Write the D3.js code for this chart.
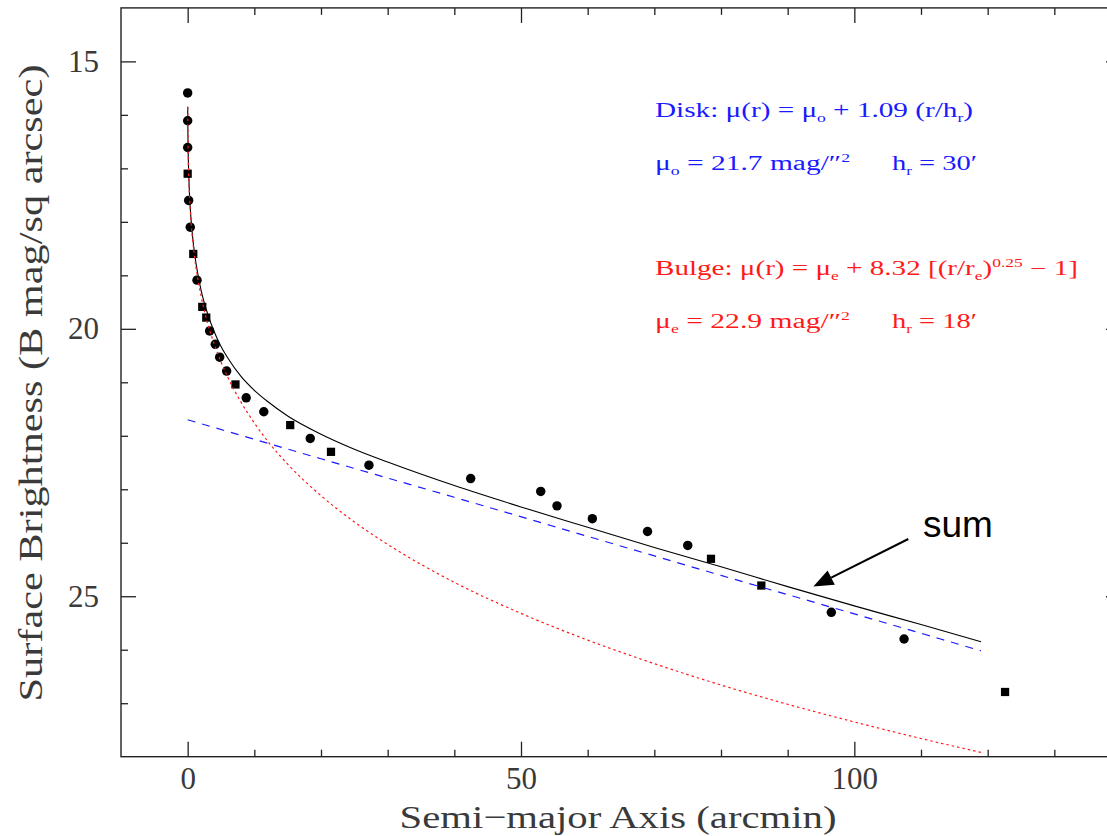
<!DOCTYPE html>
<html>
<head>
<meta charset="utf-8">
<script src="https://cdn.jsdelivr.net/npm/d3@7/dist/d3.min.js"></script>
<style>
  html, body { margin: 0; padding: 0; background: #fff; }
  svg { display: block; }
  .serif { font-family: "Liberation Serif", "Times New Roman", serif; }
</style>
</head>
<body>
<div id="chart"></div>
<script>
'use strict';

// observed profile (semi-major axis in arcmin, surface brightness in B mag/sq arcsec)
var pointR = [0, 0, 0, 0, 0.15, 0.39, 0.84, 1.40, 2.19, 2.79, 3.30, 4.14, 4.80, 5.85, 7.17, 8.78,
  11.42, 15.38, 18.39, 21.50, 27.19, 42.45, 52.96, 55.40, 60.70, 68.98, 75.01, 78.50, 86.05,
  96.55, 107.46, 122.61];
var pointMu = [15.59, 16.11, 16.61, 17.10, 17.60, 18.10, 18.60, 19.09, 19.59, 19.79, 20.04, 20.29,
  20.53, 20.79, 21.04, 21.29, 21.55, 21.80, 22.05, 22.30, 22.55, 22.80, 23.04, 23.31, 23.55,
  23.79, 24.05, 24.30, 24.80, 25.30, 25.80, 26.79];
// c = round dot, s = square dot
var pointShape = ['c', 'c', 'c', 's', 'c', 'c', 's', 'c', 's', 's', 'c', 'c', 'c', 'c', 's', 'c',
  'c', 's', 'c', 's', 'c', 'c', 'c', 'c', 'c', 'c', 'c', 's', 's', 'c', 'c', 's'];

// bulge fit (red dotted)
var bulgeR = [0.01, 0.02, 0.05, 0.1, 0.2, 0.3, 0.5, 0.75, 1, 1.5, 2, 3, 4, 5, 6, 8, 10, 12, 15,
  20, 25, 30, 40, 50, 60, 70, 80, 90, 100, 110, 119];
var bulgeMu = [15.86, 16.10, 16.49, 16.85, 17.28, 17.57, 17.98, 18.34, 18.62, 19.05, 19.38, 19.90,
  20.29, 20.62, 20.90, 21.37, 21.76, 22.10, 22.53, 23.12, 23.61, 24.03, 24.74, 25.32, 25.82,
  26.26, 26.66, 27.02, 27.35, 27.66, 27.92];

// disk fit (blue dashed)
var diskR = [0, 20, 40, 60, 80, 100, 119];
var diskMu = [21.70, 22.43, 23.15, 23.88, 24.61, 25.33, 26.02];

// sum of both (black solid)
var sumR = [0.01, 0.02, 0.05, 0.1, 0.2, 0.3, 0.5, 0.75, 1, 1.5, 2, 3, 4, 5, 6, 8, 10, 12, 15, 20,
  25, 30, 40, 50, 60, 70, 80, 90, 100, 110, 119];
var sumMu = [15.85, 16.09, 16.48, 16.84, 17.26, 17.55, 17.94, 18.29, 18.56, 18.96, 19.27, 19.72,
  20.06, 20.33, 20.54, 20.89, 21.15, 21.36, 21.63, 21.97, 22.25, 22.49, 22.93, 23.33, 23.71,
  24.09, 24.45, 24.82, 25.18, 25.53, 25.85];

// axis ticks
var xMajorTicks = [0, 50, 100];
var xMinorTicks = [10, 20, 30, 40, 60, 70, 80, 90, 110, 120, 130];
var yMajorTicks = [15, 20, 25];
var yMinorTicks = [16, 17, 18, 19, 21, 22, 23, 24, 26, 27];

var width = 1107, height = 836;
var textGrey = '#3a3a3a';

var x = d3.scaleLinear().domain([-10, 140]).range([121, 1121]);
var y = d3.scaleLinear().domain([14, 28]).range([7.9, 756.7]);

var svg = d3.select('#chart').append('svg')
  .attr('width', width)
  .attr('height', height);

svg.append('rect').attr('width', width).attr('height', height).attr('fill', '#fff');

//frame
svg.append('rect')
  .attr('x', x(-10)).attr('y', y(14))
  .attr('width', x(140) - x(-10)).attr('height', y(28) - y(14))
  .attr('fill', 'none').attr('stroke', '#222').attr('stroke-width', 1.4);

function styleAxis(g, labels) {
  g.select('.domain').remove();
  g.selectAll('.tick line').attr('stroke', '#222').attr('stroke-width', 1.3);
  g.selectAll('.tick text')
    .attr('class', 'serif')
    .attr('fill', textGrey)
    .style('font-size', '31px')
    .style('font-family', '"Liberation Serif", serif');
  if (!labels) g.selectAll('.tick text').remove();
}

// bottom axis
svg.append('g').attr('transform', 'translate(0,' + y(28) + ')')
  .call(d3.axisBottom(x).tickValues(xMajorTicks).tickSize(-15).tickPadding(10).tickFormat(d3.format('d')))
  .call(styleAxis, true);
svg.append('g').attr('transform', 'translate(0,' + y(28) + ')')
  .call(d3.axisBottom(x).tickValues(xMinorTicks).tickSize(-7).tickFormat(''))
  .call(styleAxis, false);
// top axis
svg.append('g').attr('transform', 'translate(0,' + y(14) + ')')
  .call(d3.axisTop(x).tickValues(xMajorTicks).tickSize(-15).tickFormat(''))
  .call(styleAxis, false);
svg.append('g').attr('transform', 'translate(0,' + y(14) + ')')
  .call(d3.axisTop(x).tickValues(xMinorTicks).tickSize(-7).tickFormat(''))
  .call(styleAxis, false);
// left axis
svg.append('g').attr('transform', 'translate(' + x(-10) + ',0)')
  .call(d3.axisLeft(y).tickValues(yMajorTicks).tickSize(-15).tickPadding(22).tickFormat(d3.format('d')))
  .call(styleAxis, true);
svg.append('g').attr('transform', 'translate(' + x(-10) + ',0)')
  .call(d3.axisLeft(y).tickValues(yMinorTicks).tickSize(-7).tickFormat(''))
  .call(styleAxis, false);
// right axis (mostly outside the picture)
svg.append('g').attr('transform', 'translate(' + x(140) + ',0)')
  .call(d3.axisRight(y).tickValues(yMajorTicks).tickSize(-15).tickFormat(''))
  .call(styleAxis, false);
svg.append('g').attr('transform', 'translate(' + x(140) + ',0)')
  .call(d3.axisRight(y).tickValues(yMinorTicks).tickSize(-7).tickFormat(''))
  .call(styleAxis, false);

// axis titles
svg.append('text')
  .attr('class', 'serif')
  .attr('x', 618).attr('y', 828)
  .attr('text-anchor', 'middle')
  .attr('textLength', 437).attr('lengthAdjust', 'spacingAndGlyphs')
  .style('font-size', '32px').attr('fill', textGrey)
  .text('Semi\u2212major Axis (arcmin)');

svg.append('text')
  .attr('class', 'serif')
  .attr('transform', 'translate(42,383) rotate(-90)')
  .attr('text-anchor', 'middle')
  .attr('textLength', 637).attr('lengthAdjust', 'spacingAndGlyphs')
  .style('font-size', '33px').attr('fill', textGrey)
  .text('Surface Brightness (B mag/sq arcsec)');

// data points
var pts = d3.range(pointR.length).map(function(i) {
  return { r: pointR[i], mu: pointMu[i], shape: pointShape[i] };
});
svg.append('g').selectAll('path')
  .data(pts)
  .enter().append('path')
  .attr('d', function(d) {
    return d3.symbol().type(d.shape === 's' ? d3.symbolSquare : d3.symbolCircle)
      .size(d.shape === 's' ? 68 : 70)();
  })
  .attr('transform', function(d) { return 'translate(' + x(d.r) + ',' + y(d.mu) + ')'; })
  .attr('fill', '#000');

// fitted curves
var line = d3.line()
  .x(function(d) { return x(d[0]); })
  .y(function(d) { return y(d[1]); })
  .curve(d3.curveMonotoneX);

svg.append('path')
  .datum(d3.zip(sumR, sumMu))
  .attr('d', line)
  .attr('fill', 'none').attr('stroke', '#000').attr('stroke-width', 1.1);

svg.append('path')
  .datum(d3.zip(diskR, diskMu))
  .attr('d', line)
  .attr('fill', 'none').attr('stroke', '#1a1aff').attr('stroke-width', 1.2)
  .attr('stroke-dasharray', '8,7');

svg.append('path')
  .datum(d3.zip(bulgeR, bulgeMu))
  .attr('d', line)
  .attr('fill', 'none').attr('stroke', '#ff1a1a').attr('stroke-width', 1.2)
  .attr('stroke-dasharray', '2.5,3');

// equations
function eqLine(parent, xPos, yPos, len, colour, parts) {
  var t = parent.append('text')
    .attr('class', 'serif')
    .attr('x', xPos).attr('y', yPos)
    .attr('textLength', len).attr('lengthAdjust', 'spacingAndGlyphs')
    .attr('fill', colour)
    .style('font-size', '20px');
  var shift = 0;
  parts.forEach(function(p) {
    var want = p.sub ? 5 : (p.sup ? -8 : 0);
    t.append('tspan')
      .attr('dy', want - shift)
      .style('font-size', (p.sub || p.sup) ? '12px' : '20px')
      .text(p.t);
    shift = want;
  });
  return t;
}

var eq = svg.append('g');
eqLine(eq, 655, 117, 318, '#1a1aff', [
  { t: 'Disk:  \u03bc(r)  =  \u03bc' }, { t: 'o', sub: true },
  { t: '  +  1.09  (r/h' }, { t: 'r', sub: true }, { t: ')' }
]);
eqLine(eq, 655, 170, 195, '#1a1aff', [
  { t: '\u03bc' }, { t: 'o', sub: true }, { t: '  =  21.7  mag/\u2033' }, { t: '2', sup: true }
]);
eqLine(eq, 892, 170, 85, '#1a1aff', [
  { t: 'h' }, { t: 'r', sub: true }, { t: '  =  30\u2032' }
]);
eqLine(eq, 655, 275, 423, '#ff1a1a', [
  { t: 'Bulge:  \u03bc(r)  =  \u03bc' }, { t: 'e', sub: true },
  { t: '  +  8.32  [(r/r' }, { t: 'e', sub: true }, { t: ')' }, { t: '0.25', sup: true },
  { t: '  \u2212  1]' }
]);
eqLine(eq, 655, 328, 195, '#ff1a1a', [
  { t: '\u03bc' }, { t: 'e', sub: true }, { t: '  =  22.9  mag/\u2033' }, { t: '2', sup: true }
]);
eqLine(eq, 892, 328, 85, '#ff1a1a', [
  { t: 'h' }, { t: 'r', sub: true }, { t: '  =  18\u2032' }
]);

// "sum" label with arrow
var tail = [108.1, 23.93], tip = [93.85, 24.82];
var x1 = x(tail[0]), y1 = y(tail[1]), x2 = x(tip[0]), y2 = y(tip[1]);
var ang = Math.atan2(y2 - y1, x2 - x1);
var headLen = 20, headW = 8;
var bx = x2 - headLen * Math.cos(ang), by = y2 - headLen * Math.sin(ang);

svg.append('line')
  .attr('x1', x1).attr('y1', y1).attr('x2', bx).attr('y2', by)
  .attr('stroke', '#000').attr('stroke-width', 2);
svg.append('path')
  .attr('d', 'M' + x2 + ',' + y2 +
    'L' + (bx + headW * Math.sin(ang)) + ',' + (by - headW * Math.cos(ang)) +
    'L' + (bx - headW * Math.sin(ang)) + ',' + (by + headW * Math.cos(ang)) + 'Z')
  .attr('fill', '#000');

svg.append('text')
  .attr('x', x(110.3)).attr('y', y(23.89))
  .style('font-family', '"Liberation Sans", Arial, sans-serif')
  .style('font-size', '37px')
  .attr('fill', '#000')
  .text('sum');
</script>
</body>
</html>
